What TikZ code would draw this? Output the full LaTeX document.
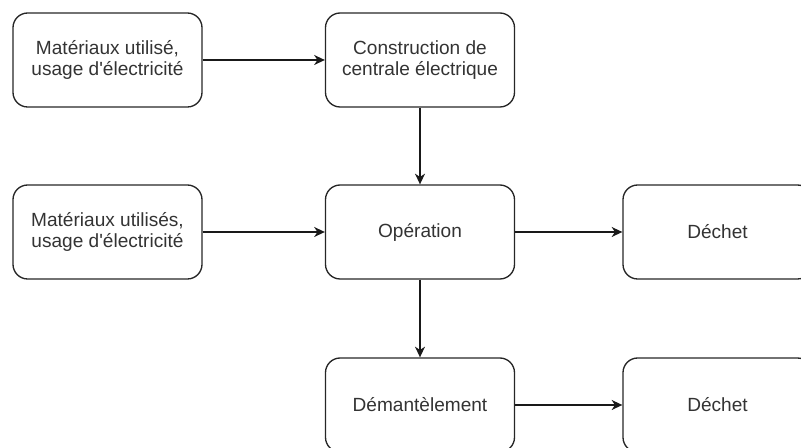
\documentclass[tikz,border=0pt]{standalone}
\usepackage{fontspec}
\setmainfont{Liberation Sans}
\usetikzlibrary{arrows.meta}
\begin{document}
\begin{tikzpicture}[x=0.75pt,y=-0.75pt,
  stage/.style={draw=black!85, line width=1pt, rounded corners=11pt,
    minimum width=189*0.75pt, minimum height=94*0.75pt, align=center,
    text=black!80, font=\fontsize{14.3}{15.5}\selectfont, inner sep=0pt},
  flow/.style={draw=black!90, line width=1pt, -{Stealth[length=8pt,width=7.5pt,inset=2.5pt]}}]
  \useasboundingbox (0,0) rectangle (801,448);
  \clip (0,0) rectangle (801,448);
  % top row
  \node[stage] (in1) at (107.5,60) {Matériaux utilisé,\\usage d\textquotesingle électricité};
  \node[stage] (build) at (420,60) {Construction de\\centrale électrique};
  % middle row
  \node[stage] (in2) at (107.5,232) {Matériaux utilisés,\\usage d\textquotesingle électricité};
  \node[stage] (op) at (420,232) {Opération};
  \node[stage] (w1) at (717.5,232) {Déchet};
  % bottom row
  \node[stage] (dis) at (420,405) {Démantèlement};
  \node[stage] (w2) at (717.5,405) {Déchet};
  % connectors
  \draw[flow] (in1) -- (build);
  \draw[flow] (build) -- (op);
  \draw[flow] (in2) -- (op);
  \draw[flow] (op) -- (w1);
  \draw[flow] (op) -- (dis);
  \draw[flow] (dis) -- (w2);
\end{tikzpicture}
\end{document}
